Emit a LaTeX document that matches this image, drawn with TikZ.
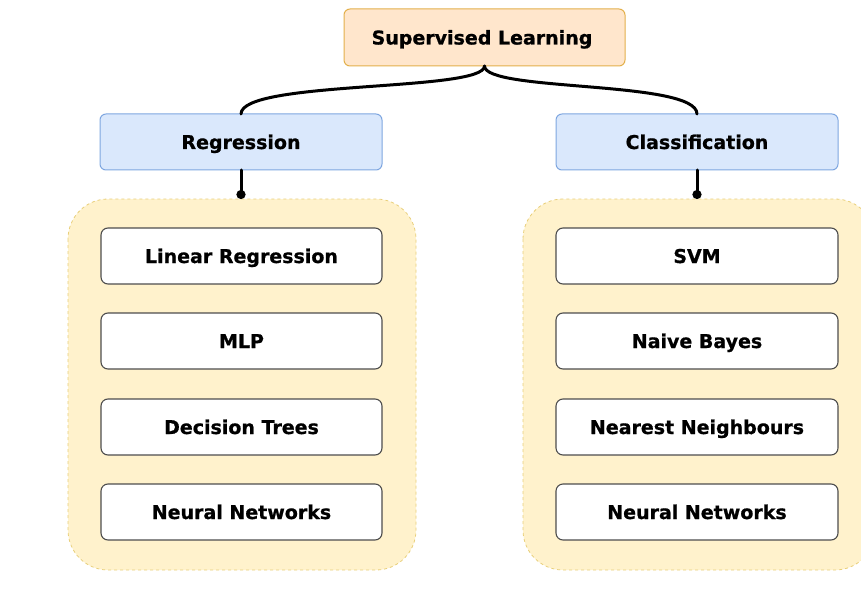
\documentclass[tikz,border=0pt]{standalone}
\usepackage{fontspec}
\setmainfont{DejaVu Sans}[BoldFont={DejaVu Sans Bold},BoldFeatures={FakeBold=0.8}]
\usetikzlibrary{arrows.meta}
\definecolor{peachF}{HTML}{FFE6CC}
\definecolor{peachD}{HTML}{E3B04B}
\definecolor{blueF}{HTML}{DAE8FC}
\definecolor{blueD}{HTML}{7EA6E0}
\definecolor{contF}{HTML}{FFF2CC}
\definecolor{contD}{HTML}{E8CF7A}
\definecolor{itemD}{HTML}{4D4D4D}
\begin{document}
\begin{tikzpicture}[x=1pt,y=-1pt,
  lbl/.style={font=\fontsize{19}{22}\selectfont\bfseries, text=black, text height=16pt, text depth=2pt, inner sep=0pt},
  topbox/.style={draw=peachD, fill=peachF, rounded corners=6pt, line width=1pt},
  catbox/.style={draw=blueD, fill=blueF, rounded corners=6pt, line width=1pt},
  itembox/.style={draw=itemD, fill=white, rounded corners=7pt, line width=1.1pt},
  contbox/.style={draw=contD, fill=contF, dashed, rounded corners=40pt, line width=0.8pt},
  conn/.style={draw=black, line width=3pt, line cap=round},
  dotend/.style={-{Circle[length=9pt,width=9pt]}}
]
\useasboundingbox (0,0) rectangle (861,604);
% containers
\path[contbox] (68,199) rectangle (416,570);
\path[contbox] (523,199) rectangle (875,570);
% top
\path[topbox] (344,9) rectangle (625,66);
\node[lbl] (sl) at (482,37.5) {Supervised Learning};
\coordinate (slb) at (484.5,66);
% categories
\path[catbox] (100,114) rectangle (382,170);
\node[lbl] (reg) at (241,142) {Regression};
\path[catbox] (556,114) rectangle (838,170);
\node[lbl] (cls) at (697,142) {Classification};
\coordinate (regt) at (241,114);
\coordinate (regb) at (241,170);
\coordinate (clst) at (697,114);
\coordinate (clsb) at (697,170);
\coordinate (regc) at (241,199);
\coordinate (clsc) at (697,199);
% items
\foreach \y/\t/\n in {256/Linear Regression/a, 341/MLP/b, 427/Decision Trees/c, 512/Neural Networks/d}{
  \path[itembox] (101,\y-28) rectangle (382,\y+28);
  \node[lbl] (l\n) at (241.5,\y) {\t};
}
\foreach \y/\t/\n in {256/SVM/a, 341/Naive Bayes/b, 427/Nearest Neighbours/c, 512/Neural Networks/d}{
  \path[itembox] (556,\y-28) rectangle (838,\y+28);
  \node[lbl] (r\n) at (697,\y) {\t};
}
% connectors
\draw[conn] (slb) .. controls (484.5,92) and (241,80) .. (regt);
\draw[conn] (slb) .. controls (484.5,92) and (697,80) .. (clst);
\draw[conn, dotend] (regb) -- (regc);
\draw[conn, dotend] (clsb) -- (clsc);
\end{tikzpicture}
\end{document}
